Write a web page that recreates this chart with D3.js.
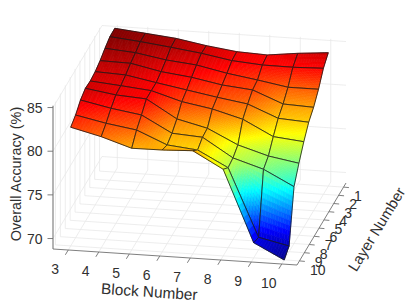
<!DOCTYPE html>
<html>
<head>
<meta charset="UTF-8" />
<title>Overall accuracy surface</title>
<script src="https://d3js.org/d3.v7.min.js"></script>
<style>
html, body { margin: 0; padding: 0; background: #fff; }
svg { display: block; }
text { font-family: "Liberation Sans", Arial, sans-serif; fill: #303030; }
.grid { stroke: #e8e8e8; stroke-width: 0.8; fill: none; }
</style>
</head>
<body>
<div id="chart"></div>
<script>
var blocks = [3, 4, 5, 6, 7, 8, 9, 10];
var layers = [1, 2, 3, 4, 5, 6, 7, 8, 9, 10];
var accuracyTicks = [70, 75, 80, 85];

// one row per layer, one column per block
var layer1  = [85.27, 84.93, 84.58, 83.97, 83.51, 83.36, 83.78, 84.08];
var layer2  = [85.25, 84.91, 84.49, 84.03, 83.42, 83.15, 83.12, 83.23];
var layer3  = [84.86, 84.58, 83.98, 83.63, 82.91, 82.37, 81.77, 81.77];
var layer4  = [84.38, 84.31, 83.58, 83.16, 82.51, 82.17, 80.79, 80.64];
var layer5  = [84.06, 83.91, 83.26, 82.65, 82.04, 81.50, 80.09, 79.87];
var layer6  = [83.93, 83.62, 83.28, 82.25, 81.64, 80.69, 78.93, 78.58];
var layer7  = [84.03, 83.50, 83.27, 81.21, 80.37, 78.69, 77.65, 77.05];
var layer8  = [83.63, 82.91, 82.37, 80.51, 80.28, 78.14, 77.07, 75.31];
var layer9  = [82.85, 82.13, 81.59, 80.11, 79.76, 77.96, 70.22, 69.45];
var layer10 = [82.39, 81.54, 80.44, 80.47, 80.62, 78.72, 70.54, 68.79];
var accuracy = [layer1, layer2, layer3, layer4, layer5, layer6, layer7, layer8, layer9, layer10];

var width = 407;
var height = 305;

var svg = d3.select('#chart').append('svg')
    .attr('width', width)
    .attr('height', height);

// oblique projection: each data axis is one straight run on screen
var xLim = [2.5, 10.5], yLim = [0.5, 10.5], zLim = [68.8, 85.2];
var originX = 53, originY = 249;

var xToX = d3.scaleLinear().domain(xLim).range([0, 244]);
var xToY = d3.scaleLinear().domain(xLim).range([0, 16]);
var yToX = d3.scaleLinear().domain(yLim).range([49, 0]);
var yToY = d3.scaleLinear().domain(yLim).range([-82, 0]);
var zToY = d3.scaleLinear().domain(zLim).range([0, -143.2]);

function project(x, y, z) {
    return [originX + xToX(x) + yToX(y), originY + xToY(x) + yToY(y) + zToY(z)];
}

var jet = d3.scaleLinear()
    .domain([0, 0.125, 0.375, 0.625, 0.875, 1].map(function(t) { return 68.79 + t * (85.27 - 68.79); }))
    .range(['#00008f', '#0000ff', '#00ffff', '#ffff00', '#ff0000', '#800000'])
    .clamp(true);

var line = d3.line();

function seg(a, b, cls, g) {
    (g || svg).append('path').attr('class', cls).attr('d', line([a, b]));
}

// walls and floor grid
var gridG = svg.append('g');
blocks.forEach(function(b) {
    seg(project(b, yLim[0], zLim[0]), project(b, yLim[1], zLim[0]), 'grid', gridG);
    seg(project(b, yLim[0], zLim[0]), project(b, yLim[0], zLim[1]), 'grid', gridG);
});
layers.forEach(function(l) {
    seg(project(xLim[0], l, zLim[0]), project(xLim[1], l, zLim[0]), 'grid', gridG);
    seg(project(xLim[0], l, zLim[0]), project(xLim[0], l, zLim[1]), 'grid', gridG);
});
accuracyTicks.forEach(function(z) {
    seg(project(xLim[0], yLim[1], z), project(xLim[0], yLim[0], z), 'grid', gridG);
    seg(project(xLim[0], yLim[0], z), project(xLim[1], yLim[0], z), 'grid', gridG);
});

// rulers
var axisG = svg.append('g').attr('fill', 'none');
axisG.append('path').attr('d', line([project(xLim[0], yLim[1], zLim[0]), project(xLim[0], yLim[1], zLim[1])]))
    .attr('stroke', '#8c8c8c').attr('stroke-width', 1.3);
axisG.append('path').attr('d', line([project(xLim[0], yLim[1], zLim[0]), project(xLim[1], yLim[1], zLim[0])]))
    .attr('stroke', '#707070').attr('stroke-width', 0.9);
axisG.append('path').attr('d', line([project(xLim[1], yLim[1], zLim[0]), project(xLim[1], yLim[0], zLim[0])]))
    .attr('stroke', '#707070').attr('stroke-width', 0.9);

accuracyTicks.forEach(function(z) {
    var p = project(xLim[0], yLim[1], z);
    axisG.append('path').attr('d', line([p, [p[0] - 5.5, p[1]]])).attr('stroke', '#707070').attr('stroke-width', 0.9);
    svg.append('text').attr('x', p[0] - 10.5).attr('y', p[1] + 5)
        .attr('text-anchor', 'end').attr('font-size', 14).text(z);
});
blocks.forEach(function(b) {
    var p = project(b, yLim[1], zLim[0]);
    axisG.append('path').attr('d', line([p, [p[0] - 2.9, p[1] + 4.8]])).attr('stroke', '#707070').attr('stroke-width', 0.9);
    svg.append('text').attr('x', p[0] - 13).attr('y', p[1] + 24)
        .attr('text-anchor', 'middle').attr('font-size', 14).text(b);
});
layers.forEach(function(l) {
    var p = project(xLim[1], l, zLim[0]);
    axisG.append('path').attr('d', line([p, [p[0] + 5.4, p[1] + 0.5]])).attr('stroke', '#707070').attr('stroke-width', 0.9);
    svg.append('text').attr('x', p[0] + 10.5).attr('y', p[1] + 14)
        .attr('text-anchor', 'start').attr('font-size', 14).text(l);
});

// axis titles
svg.append('text').attr('transform', 'translate(21,174) rotate(-90)')
    .attr('text-anchor', 'middle').attr('font-size', 14.4).text('Overall Accuracy (%)');
svg.append('text').attr('transform', 'translate(149,297) rotate(3.8)')
    .attr('text-anchor', 'middle').attr('font-size', 15.4).text('Block Number');
svg.append('text').attr('transform', 'translate(381,232) rotate(-58.5)')
    .attr('text-anchor', 'middle').attr('font-size', 15).text('Layer Number');

// surface, back to front; each quad is cut small so the colour follows the height
var surfaceG = svg.append('g');
var steps = 12;
d3.range(layers.length - 1).forEach(function(j) {
    d3.range(blocks.length - 1).forEach(function(i) {
        var z00 = accuracy[j][i], z10 = accuracy[j][i + 1],
            z01 = accuracy[j + 1][i], z11 = accuracy[j + 1][i + 1];
        var x0 = blocks[i], x1 = blocks[i + 1], y0 = layers[j], y1 = layers[j + 1];
        function at(s, t) {
            var z = (1 - s) * (1 - t) * z00 + s * (1 - t) * z10 + (1 - s) * t * z01 + s * t * z11;
            return { p: project(x0 + s * (x1 - x0), y0 + t * (y1 - y0), z), z: z };
        }
        var cells = [];
        d3.range(steps).forEach(function(a) {
            d3.range(steps).forEach(function(b) {
                var s0 = a / steps, s1 = (a + 1) / steps, t0 = b / steps, t1 = (b + 1) / steps;
                cells.push({
                    pts: [at(s0, t0).p, at(s1, t0).p, at(s1, t1).p, at(s0, t1).p],
                    z: at((s0 + s1) / 2, (t0 + t1) / 2).z
                });
            });
        });
        surfaceG.append('g').selectAll('polygon')
            .data(cells)
            .enter().append('polygon')
            .attr('points', function(d) { return d.pts.map(function(p) { return p[0].toFixed(2) + ',' + p[1].toFixed(2); }).join(' '); })
            .attr('fill', function(d) { return jet(d.z); })
            .attr('stroke', function(d) { return jet(d.z); })
            .attr('stroke-width', 0.6);
        surfaceG.append('path')
            .attr('d', line([project(x0, y0, z00), project(x1, y0, z10), project(x1, y1, z11), project(x0, y1, z01)]) + 'Z')
            .attr('fill', 'none')
            .attr('stroke', '#1a1a1a')
            .attr('stroke-width', 0.8);
    });
});
</script>
</body>
</html>
